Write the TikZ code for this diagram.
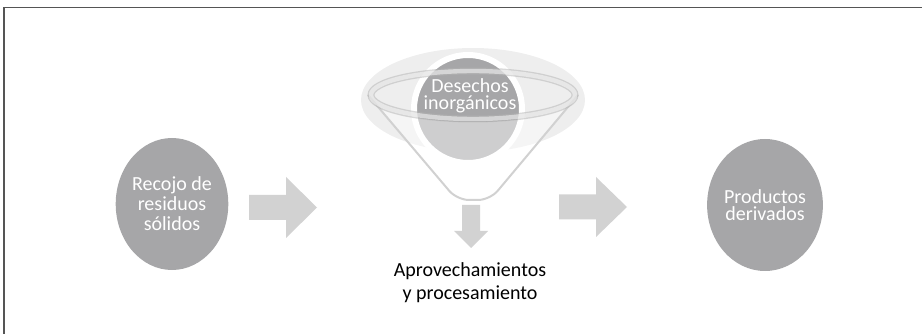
\documentclass[tikz,border=0pt]{standalone}
\usepackage{fontspec}
\setmainfont{Carlito}
\usetikzlibrary{shapes.geometric}
\definecolor{blobgray}{RGB}{166,166,168}
\definecolor{arrowgray}{RGB}{210,210,210}
\definecolor{hazegray}{RGB}{238,238,238}
\definecolor{framegray}{RGB}{85,85,85}
\newcommand\leadfont[1]{\fontsize{20}{#1}\selectfont\lineskiplimit=-100pt}
\tikzset{
  blob/.style = {ellipse, fill = blobgray, text = white, align = center, inner sep = 0, minimum width = 104, minimum height = 132},
  blockarrow/.style = {fill = arrowgray}
}
\begin{document}
\begin{tikzpicture}[x = 1pt, y = -1pt]
\useasboundingbox (0,0) rectangle (922,334);
%frame
\draw[framegray, line width = 1.3] (4,334) -- (4,7.5) -- (922,7.5);
%outer ellipses
\node[blob, font = \leadfont{20}] (recojo) at (172,204) {Recojo de\\residuos\\sólidos};
\node[blob, font = \leadfont{17}] (productos) at (765,205) {Productos\\derivados};
%arrows
\fill[blockarrow] (249,195) -- (286,195) -- (286,177) -- (317,207.5) -- (286,238) -- (286,220) -- (249,220) -- cycle;
\fill[blockarrow] (559,194.5) -- (596,194.5) -- (596,177) -- (627,207) -- (596,237) -- (596,219.5) -- (559,219.5) -- cycle;
\fill[blockarrow] (462,205) -- (480,205) -- (480,231) -- (488,231) -- (471,248) -- (454,231) -- (462,231) -- cycle;
%funnel
\fill[hazegray] (473,100) ellipse [x radius = 112, y radius = 52];
\node[circle, fill = blobgray, draw = white, line width = 6, minimum size = 108, inner sep = 0] (desechos) at (468,109) {};
\fill[white, fill opacity = 0.45] (368,95) [rounded corners = 12] -- (457,200) -- (490,200) [sharp corners] -- (578,95) -- plot[domain = 0:-180, samples = 40] ({473+105*cos(\x)}, {95-27*sin(\x)}) -- cycle;
\draw[black!18, line width = 2, rounded corners = 12] (368,95) -- (457,200) -- (490,200) -- (578,95);
\draw[black!30, draw opacity = 0.5, line width = 7] (473,95) ellipse [x radius = 102, y radius = 24];
\draw[white, draw opacity = 0.5, line width = 4.4] (473,95) ellipse [x radius = 102, y radius = 24];
\node[text = white, align = center, font = \leadfont{17}] (desechostxt) at (470,96) {Desechos\\inorgánicos};
%label below
\node[align = center, font = \leadfont{23}] (aprovech) at (470,283) {Aprovechamientos\\y procesamiento};
\end{tikzpicture}
\end{document}
